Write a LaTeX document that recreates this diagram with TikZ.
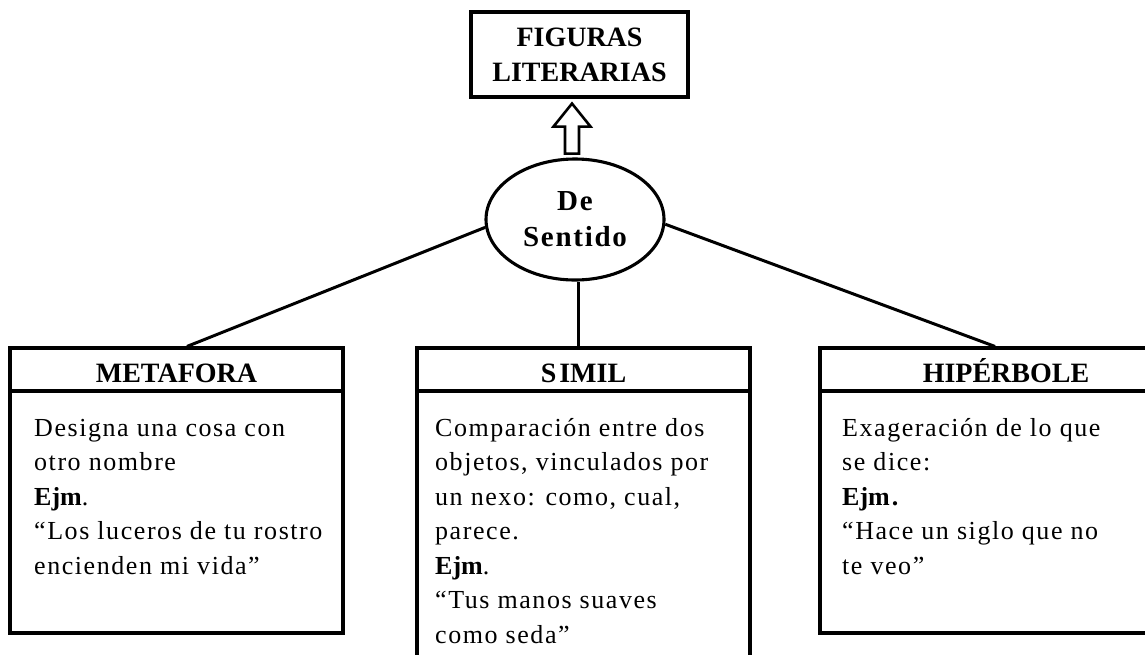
\documentclass[tikz,border=0pt]{standalone}
\usepackage{fontspec}
\setmainfont{Liberation Serif}
\newfontfamily\spaced{Liberation Serif}[LetterSpace=6]
\newcommand\ejm[1]{{\normalfont\bfseries #1}}
\usetikzlibrary{shapes.geometric}
\begin{document}
\begin{tikzpicture}[x=1pt,y=-1pt,
  box/.style={draw, rectangle, line width=3.1pt, inner sep=0pt},
  hdr/.style={box, minimum height=43pt, font=\fontsize{28}{30}\selectfont\bfseries, text height=25.5pt, text depth=0pt},
  bodytext/.style={anchor=north west, inner sep=0pt, align=left, font=\spaced\fontsize{26}{34.5}\selectfont},
  conn/.style={line width=3pt},
  blockarrow/.style={draw, line width=2.6pt, line join=miter, fill=white}]
\useasboundingbox (0,0) rectangle (1145,654);
\clip (0,0) rectangle (1145,654);

% top box
\node[box, minimum width=217pt, minimum height=85pt, align=center,
      font=\fontsize{28}{35}\selectfont\bfseries] (top) at (579.5,54.5) {FIGURAS\\LITERARIAS};

% ellipse
\node[ellipse, draw, line width=3.1pt, minimum width=178pt, minimum height=121pt, inner sep=0pt,
      align=center, font=\spaced\fontsize{29}{36}\selectfont\bfseries] (ell) at (575,219.5) {De\\Sentido};

% hollow arrow from ellipse to top box
\coordinate (atip) at ([xshift=-7.5pt,yshift=-5pt]top.south);
\draw[blockarrow, shift={(atip)}] (0,0) -- (18.5,23) -- (7,23) -- (7,50) -- (-7,50) -- (-7,23) -- (-18.5,23) -- cycle;

% METAFORA
\node[hdr, minimum width=333pt] (mh) at (176.5,369.5) {METAFORA};
\node[box, minimum width=333pt, minimum height=242pt] (mb) at (176.5,512) {};
\node[bodytext] (mt) at (34,416) {\rule{0pt}{20pt}Designa una cosa con\\otro nombre\\\ejm{Ejm}.\\“Los luceros de tu rostro\\encienden mi vida”};

% SIMIL
\node[hdr, minimum width=333pt] (sh) at (583.5,369.5) {S\kern3pt IMIL};
\node[box, minimum width=333pt, minimum height=290pt] (sb) at (583.5,536) {};
\node[bodytext] (st) at (435,416) {\rule{0pt}{20pt}Comparación entre dos\\objetos, vinculados por\\un nexo: como, cual,\\parece.\\\ejm{Ejm}.\\“Tus manos suaves\\como seda”};

% HIPERBOLE
\node[hdr, minimum width=372pt] (hh) at (1006,369.5) {HIPÉRBOLE};
\node[box, minimum width=372pt, minimum height=242pt] (hb) at (1006,512) {};
\node[bodytext] (ht) at (842,416) {\rule{0pt}{20pt}Exageración de lo que\\se dice:\\\ejm{Ejm\kern2pt.}\\“Hace un siglo que no\\te veo”};

% connectors
\draw[conn] (ell.185.5) -- ([xshift=10.5pt]mh.north);
\draw[conn] ([xshift=3pt]ell.south) -- ([xshift=-5.5pt]sh.north);
\draw[conn] (ell.357) -- ([xshift=-11pt]hh.north);
\end{tikzpicture}
\end{document}
